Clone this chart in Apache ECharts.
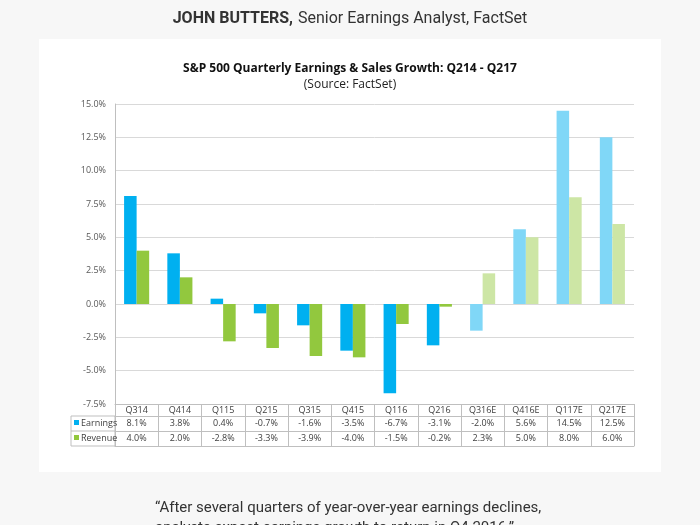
<!DOCTYPE html>
<html><head><meta charset="utf-8">
<script src="https://cdn.jsdelivr.net/npm/echarts@6/dist/echarts.min.js"></script>
<style>html,body{margin:0;padding:0;background:#f7f7f7}#c{width:700px;height:525px}</style>
</head><body><div id="c"></div>
<script>
var categories = ['Q314','Q414','Q115','Q215','Q315','Q415','Q116','Q216','Q316E','Q416E','Q117E','Q217E'];
var earnings = [8.1, 3.8, 0.4, -0.7, -1.6, -3.5, -6.7, -3.1, -2.0, 5.6, 14.5, 12.5];
var revenue = [4.0, 2.0, -2.8, -3.3, -3.9, -4.0, -1.5, -0.2, 2.3, 5.0, 8.0, 6.0];
var isEstimate = [false,false,false,false,false,false,false,false,true,true,true,true];
var yTicks = {min: -7.5, max: 15, interval: 2.5};

var C_E = '#00b0f0', C_E2 = '#80d7f7', C_R = '#92c83e', C_R2 = '#cde6a5';
var TF = '"Open Sans", "Liberation Sans", sans-serif';
var lineC = '#bfbfbf';

function pct(v){ return v.toFixed(1) + '%'; }

var chart = echarts.init(document.getElementById('c'), null, {renderer:'canvas'});
var gridL = 115, gridR = 700-634, gridT = 104, gridB = 525-404;

var tableAxisBase = {
  type:'category', data: categories, gridIndex:0, position:'bottom',
  axisTick:{show:false}, splitLine:{show:false},
  axisLine:{show:true, onZero:false, lineStyle:{color:lineC, width:1}}
};

var option = {
  backgroundColor:'#f7f7f7',
  animation:false,
  title:[
    {text:'{b|JOHN BUTTERS,} {n|Senior Earnings Analyst, FactSet}', left:'center', top:5,
      textStyle:{fontWeight:'normal', rich:{b:{fontFamily:'Roboto',fontWeight:'bold',fontSize:16,color:'#333'},
                       n:{fontFamily:'Roboto',fontWeight:'normal',fontSize:16,color:'#333'}}}},
    {text:'S&P 500 Quarterly Earnings & Sales Growth: Q214 - Q217', left:'center', top:58,
      textStyle:{fontFamily:TF, fontWeight:'bold', fontSize:12, color:'#111'}},
    {text:'(Source: FactSet)', left:'center', top:74,
      textStyle:{fontFamily:TF, fontWeight:'normal', fontSize:12, color:'#222'}}
  ],
  graphic:[
    {type:'rect', z:-10, shape:{x:39,y:39,width:622,height:433}, style:{fill:'#ffffff'}},
    {type:'text', z:6, x:155, y:508, style:{text:'\u201cAfter several quarters of year-over-year earnings declines,', fontFamily:'Roboto', fontSize:15, fill:'#333', verticalAlign:'middle'}},
    {type:'text', z:6, x:155, y:528, style:{text:'analysts expect earnings growth to return in Q4 2016.\u201d', fontFamily:'Roboto', fontSize:15, fill:'#333', verticalAlign:'middle'}},
    {type:'rect', z:5, shape:{x:71,y:416,width:44,height:30}, style:{fill:'none', stroke:lineC, lineWidth:1}},
    {type:'line', z:5, shape:{x1:71,y1:431,x2:115,y2:431}, style:{stroke:lineC, lineWidth:1}},
    {type:'rect', z:6, shape:{x:74,y:420,width:5,height:5}, style:{fill:C_E}},
    {type:'rect', z:6, shape:{x:74,y:435,width:5,height:5}, style:{fill:C_R}},
    {type:'text', z:6, x:81, y:423.5, style:{text:'Earnings', fontFamily:TF, fontSize:9, fill:'#404040', verticalAlign:'middle'}},
    {type:'text', z:6, x:81, y:438.5, style:{text:'Revenue', fontFamily:TF, fontSize:9, fill:'#404040', verticalAlign:'middle'}}
  ],
  grid:{left:gridL, right:gridR, top:gridT, bottom:gridB, containLabel:false},
  yAxis:{type:'value', min:yTicks.min, max:yTicks.max, interval:yTicks.interval,
    axisLine:{show:true, lineStyle:{color:lineC}}, axisTick:{show:false},
    splitLine:{lineStyle:{color:'#d9d9d9', width:1}},
    axisLabel:{formatter:pct, fontFamily:TF, fontSize:9, color:'#595959', margin:9}},
  xAxis:[
    Object.assign({}, tableAxisBase, {
      axisTick:{show:true, length:42, inside:false, lineStyle:{color:lineC}},
      axisLabel:{fontFamily:TF, fontSize:9, color:'#404040', margin:6, verticalAlign:'middle'}
    }),
    Object.assign({}, tableAxisBase, {offset:12,
      axisLabel:{fontFamily:TF, fontSize:9, color:'#404040', margin:7.5, verticalAlign:'middle',
        formatter:function(v,i){return pct(earnings[i]);}}}),
    Object.assign({}, tableAxisBase, {offset:27,
      axisLabel:{fontFamily:TF, fontSize:9, color:'#404040', margin:7.5, verticalAlign:'middle',
        formatter:function(v,i){return pct(revenue[i]);}}}),
    Object.assign({}, tableAxisBase, {offset:42, axisLabel:{show:false}})
  ],
  series:[
    {name:'Earnings', type:'bar', xAxisIndex:0, barWidth:'29%', barGap:'0%',
      data: earnings.map(function(v,i){return {value:v, itemStyle:{color: isEstimate[i]?C_E2:C_E}};})},
    {name:'Revenue', type:'bar', xAxisIndex:0, barWidth:'29%', barGap:'0%',
      data: revenue.map(function(v,i){return {value:v, itemStyle:{color: isEstimate[i]?C_R2:C_R}};})}
  ]
};
chart.setOption(option);
</script></body></html>
